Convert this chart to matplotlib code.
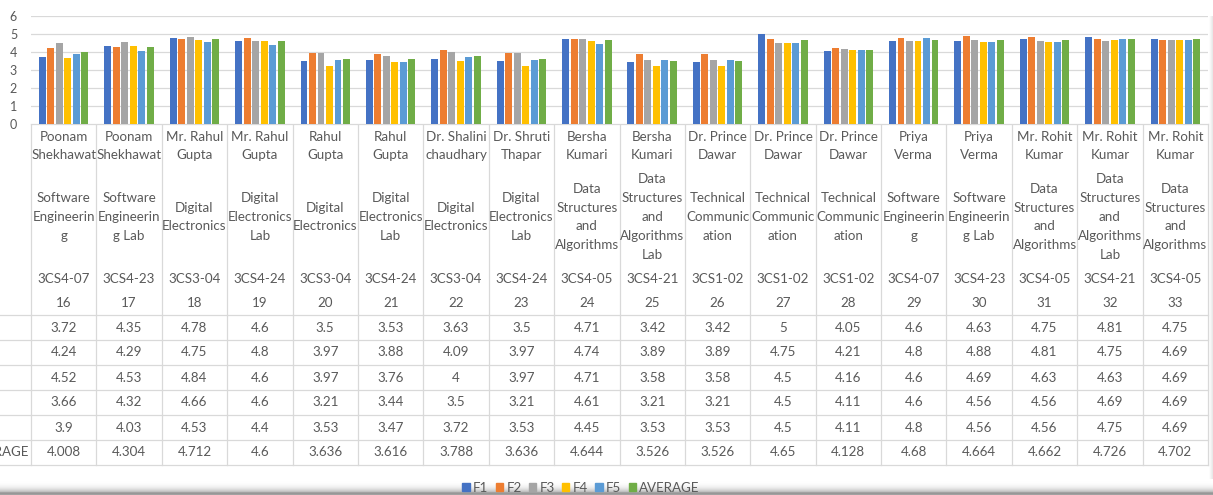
import numpy as np
import matplotlib
matplotlib.use("Agg")
import matplotlib.pyplot as plt
import matplotlib.transforms as mtransforms
from matplotlib.patches import Patch

plt.rcParams['font.family'] = ['Lato', 'DejaVu Sans']

# ---- data --------------------------------------------------------------
names = ["Poonam\nShekhawat", "Poonam\nShekhawat", "Mr. Rahul\nGupta",
         "Mr. Rahul\nGupta", "Rahul\nGupta", "Rahul\nGupta",
         "Dr. Shalini\nchaudhary", "Dr. Shruti\nThapar", "Bersha\nKumari",
         "Bersha\nKumari", "Dr. Prince\nDawar", "Dr. Prince\nDawar",
         "Dr. Prince\nDawar", "Priya\nVerma", "Priya\nVerma",
         "Mr. Rohit\nKumar", "Mr. Rohit\nKumar", "Mr. Rohit\nKumar"]
subjects = ["Software\nEngineerin\ng", "Software\nEngineerin\ng Lab",
            "Digital\nElectronics", "Digital\nElectronics\nLab",
            "Digital\nElectronics", "Digital\nElectronics\nLab",
            "Digital\nElectronics", "Digital\nElectronics\nLab",
            "Data\nStructures\nand\nAlgorithms",
            "Data\nStructures\nand\nAlgorithms\nLab",
            "Technical\nCommunic\nation", "Technical\nCommunic\nation",
            "Technical\nCommunic\nation",
            "Software\nEngineerin\ng", "Software\nEngineerin\ng Lab",
            "Data\nStructures\nand\nAlgorithms",
            "Data\nStructures\nand\nAlgorithms\nLab",
            "Data\nStructures\nand\nAlgorithms"]
codes = ["3CS4-07", "3CS4-23", "3CS3-04", "3CS4-24", "3CS3-04", "3CS4-24",
         "3CS3-04", "3CS4-24", "3CS4-05", "3CS4-21", "3CS1-02", "3CS1-02",
         "3CS1-02", "3CS4-07", "3CS4-23", "3CS4-05", "3CS4-21", "3CS4-05"]
serials = ["16", "17", "18", "19", "20", "21", "22", "23", "24",
           "25", "26", "27", "28", "29", "30", "31", "32", "33"]

f1 = [3.72, 4.35, 4.78, 4.6, 3.5, 3.53, 3.63, 3.5, 4.71,
      3.42, 3.42, 5, 4.05, 4.6, 4.63, 4.75, 4.81, 4.75]
f2 = [4.24, 4.29, 4.75, 4.8, 3.97, 3.88, 4.09, 3.97, 4.74,
      3.89, 3.89, 4.75, 4.21, 4.8, 4.88, 4.81, 4.75, 4.69]
f3 = [4.52, 4.53, 4.84, 4.6, 3.97, 3.76, 4, 3.97, 4.71,
      3.58, 3.58, 4.5, 4.16, 4.6, 4.69, 4.63, 4.63, 4.69]
f4 = [3.66, 4.32, 4.66, 4.6, 3.21, 3.44, 3.5, 3.21, 4.61,
      3.21, 3.21, 4.5, 4.11, 4.6, 4.56, 4.56, 4.69, 4.69]
f5 = [3.9, 4.03, 4.53, 4.4, 3.53, 3.47, 3.72, 3.53, 4.45,
      3.53, 3.53, 4.5, 4.11, 4.8, 4.56, 4.56, 4.75, 4.69]
average = [4.008, 4.304, 4.712, 4.6, 3.636, 3.616, 3.788, 3.636, 4.644,
           3.526, 3.526, 4.65, 4.128, 4.68, 4.664, 4.662, 4.726, 4.702]

series_names = ["F1", "F2", "F3", "F4", "F5", "AVERAGE"]
series = [f1, f2, f3, f4, f5, average]
colors = ["#4472C4", "#ED7D31", "#A5A5A5", "#FFC000", "#5B9BD5", "#70AD47"]

# ---- layout (pixels) ----------------------------------------------------
W, H = 1213, 495
left, right, top, base = 31, 1208, 16, 124
grid_c = "#D9D9D9"
txt_c = "#595959"
fs = 9.6

fig = plt.figure(figsize=(W / 100, H / 100), dpi=100)

# table layer in pixel coords
tax = fig.add_axes([0, 0, 1, 1])
tax.set_xlim(0, W)
tax.set_ylim(H, 0)
tax.axis("off")

ax = fig.add_axes([left / W, 1 - base / H, (right - left) / W, (base - top) / H])
n = len(names)
ax.set_xlim(0, n)
ax.set_ylim(0, 6)
ax.set_yticks(range(7))
ax.set_xticks([])
ax.yaxis.grid(True, color=grid_c, lw=0.9)
ax.set_axisbelow(True)
for s in ax.spines.values():
    s.set_visible(False)
ax.tick_params(axis="y", length=0, pad=10, labelsize=9, labelcolor=txt_c)

x = np.arange(n) + 0.5
slot = 0.13
for k, (vals, c) in enumerate(zip(series, colors)):
    ax.bar(x + (k - 2.5) * slot, vals, width=slot * 0.82, color=c, zorder=3)

# ---- data table below the axis ---------------------------------------
bt = mtransforms.blended_transform_factory(ax.transData, tax.transData)
row_lines = [315, 340, 365, 390, 415, 440, 465]
tax.plot([left, right], [base, base], color=grid_c, lw=0.9)
for y in row_lines:
    tax.plot([0, right], [y, y], color=grid_c, lw=0.9)
for i in range(n + 1):
    tax.plot([i, i], [base, row_lines[-1]], color=grid_c, lw=0.9, transform=bt)

for i in range(n):
    tax.text(x[i], 146, names[i], transform=bt, ha="center", va="center",
             fontsize=fs, color=txt_c, linespacing=1.55)
    tax.text(x[i], 217, subjects[i], transform=bt, ha="center", va="center",
             fontsize=fs, color=txt_c, linespacing=1.68)
    tax.text(x[i], 279, codes[i], transform=bt, ha="center", va="center",
             fontsize=fs, color=txt_c)
    tax.text(x[i], 303, serials[i], transform=bt, ha="center", va="center",
             fontsize=fs, color=txt_c)

for r, vals in enumerate(series):
    yc = (row_lines[r] + row_lines[r + 1]) / 2
    if series_names[r] == "AVERAGE":
        # row header is cut by the screenshot's left edge
        tax.text(29, yc, series_names[r], ha="right", va="center",
                 fontsize=fs, color=txt_c)
    for i, v in enumerate(vals):
        tax.text(x[i], yc, f"{v:g}", transform=bt, ha="center", va="center",
                 fontsize=fs, color=txt_c)

# ---- screenshot edge shading --------------------------------------------
sh = fig.add_axes([0, 0, 1, 16 / H], zorder=-1)
t = np.linspace(0, 1, 64)
g = 1 - 0.5 * t ** 3
g[t > 0.85] = 0.55 + 0.1 * (t[t > 0.85] - 0.85) / 0.15
sh.imshow(np.repeat(g[:, None], 2, axis=1), cmap="gray", vmin=0, vmax=1,
          aspect="auto", origin="upper", extent=(0, 1, 0, 1))
sh.axis("off")
rs = fig.add_axes([(right + 1) / W, 16 / H, (W - right - 1) / W, 1 - 32 / H], zorder=-1)
rs.imshow(np.linspace(1.0, 0.9, 16)[None, :], cmap="gray", vmin=0, vmax=1,
          aspect="auto", extent=(0, 1, 0, 1))
rs.axis("off")

handles = [Patch(color=c, label=l) for c, l in zip(colors, series_names)]
fig.legend(handles=handles, loc="center", bbox_to_anchor=(581 / W, 1 - 488 / H),
           bbox_transform=fig.transFigure, ncol=6, frameon=False,
           fontsize=fs, labelcolor=txt_c, handlelength=0.55, handleheight=0.55,
           handletextpad=0.25, columnspacing=0.55, borderpad=0)

fig.savefig("out.png", dpi=100)
